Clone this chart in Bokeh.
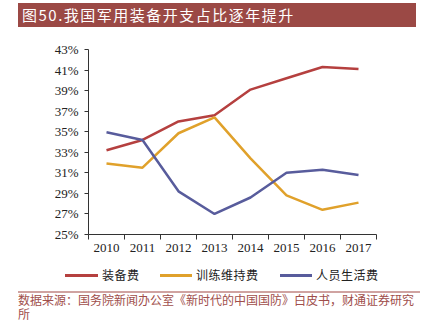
from bokeh.plotting import figure
from bokeh.models import Range1d, FixedTicker, Div
from bokeh.layouts import column
from bokeh.embed import file_html
from bokeh.resources import INLINE

years = ["2010", "2011", "2012", "2013", "2014", "2015", "2016", "2017"]
equipment = [33.2, 34.2, 36.0, 36.6, 39.1, 40.2, 41.3, 41.1]
training = [31.9, 31.5, 34.85, 36.4, 32.4, 28.8, 27.4, 28.1]
personnel = [34.95, 34.2, 29.2, 27.0, 28.6, 31.0, 31.3, 30.8]
series_names = ["装备费", "训练维持费", "人员生活费"]
y_ticks = [25, 27, 29, 31, 33, 35, 37, 39, 41, 43]
title_text = "图50.我国军用装备开支占比逐年提升"
source_lines = ["数据来源：国务院新闻办公室《新时代的中国国防》白皮书，财通证券研究", "所"]

colors = ["#B5403F", "#E0A12B", "#585C9C"]
W = 422
CJK_CSS = "'Noto Sans CJK SC', sans-serif"

# ---- title strip (canvas y 0..30)
title_div = Div(
    text=(f'<div style="margin:3px 0 0 18px;width:398px;height:24px;padding-left:4px;'
          f'background:#9B4945;color:#ffffff;font-family:{CJK_CSS};font-size:15px;'
          f'letter-spacing:1.5px;line-height:24px;white-space:nowrap;">{title_text}</div>'),
    width=W, height=30, margin=0)

# ---- main chart (canvas y 30..262)
xs = list(range(1, len(years) + 1))
p = figure(width=W, height=232, frame_width=288, frame_height=185,
           output_backend="svg", toolbar_location=None,
           x_range=Range1d(0.5, len(years) + 0.5), y_range=Range1d(25, 43),
           min_border_left=88, min_border_right=46, min_border_top=19, min_border_bottom=28)
p.outline_line_color = None
p.xgrid.visible = False
p.ygrid.visible = False
p.background_fill_color = "white"
p.border_fill_color = "white"

for vals, c in zip([equipment, training, personnel], colors):
    p.line(xs, vals, line_color=c, line_width=2.5)

serif = "Liberation Serif"
p.xaxis.ticker = FixedTicker(ticks=xs, minor_ticks=[x - 0.5 for x in xs] + [len(xs) + 0.5])
p.xaxis.major_label_overrides = {x: y for x, y in zip(xs, years)}
p.xaxis.major_tick_out = 0
p.xaxis.major_tick_in = 0
p.xaxis.minor_tick_out = 5
p.xaxis.minor_tick_in = 0
p.xaxis.major_label_text_font = serif
p.xaxis.major_label_text_font_size = "13px"
p.xaxis.major_label_text_color = "#222222"
p.xaxis.major_label_standoff = 4
p.xaxis.axis_line_color = "#333333"
p.xaxis.minor_tick_line_color = "#333333"

p.yaxis.ticker = FixedTicker(ticks=y_ticks, minor_ticks=[])
p.yaxis.major_label_overrides = {t: f"{t}%" for t in y_ticks}
p.yaxis.major_tick_out = 4
p.yaxis.major_tick_in = 0
p.yaxis.minor_tick_out = 0
p.yaxis.minor_tick_in = 0
p.yaxis.major_label_text_font = serif
p.yaxis.major_label_text_font_size = "13px"
p.yaxis.major_label_text_color = "#222222"
p.yaxis.major_label_standoff = 6
p.yaxis.axis_line_color = "#333333"
p.yaxis.major_tick_line_color = "#333333"

# ---- legend strip (canvas y 262..287), legend line centre at canvas y 275
leg_line_x = [65, 160, 280]
leg_line_w = [33, 32, 32]
items_html = ""
for name, c, lx, lw in zip(series_names, colors, leg_line_x, leg_line_w):
    items_html += (f'<div style="position:absolute;left:{lx}px;top:12px;width:{lw}px;height:3px;'
                   f'background:{c};"></div>'
                   f'<div style="position:absolute;left:{lx + lw + 4}px;top:5px;height:16px;'
                   f'line-height:16px;font-family:{CJK_CSS};font-size:12px;letter-spacing:0.5px;'
                   f'color:#222222;white-space:nowrap;">{name}</div>')
legend_div = Div(text=f'<div style="position:relative;width:{W}px;height:25px;">{items_html}</div>',
                 width=W, height=25, margin=0)

# ---- source strip (canvas y 287..321)
source_div = Div(
    text=(f'<div style="margin:4px 0 0 18px;width:402px;border-top:2px solid #D0A3A1;'
          f'padding-top:0px;font-family:{CJK_CSS};font-size:12px;line-height:14px;'
          f'color:#A04E4B;white-space:nowrap;">{source_lines[0]}<br>{source_lines[1]}</div>'),
    width=W, height=34, margin=0)

layout = column(title_div, p, legend_div, source_div, spacing=0)
open("out.html", "w").write(file_html(layout, INLINE))
